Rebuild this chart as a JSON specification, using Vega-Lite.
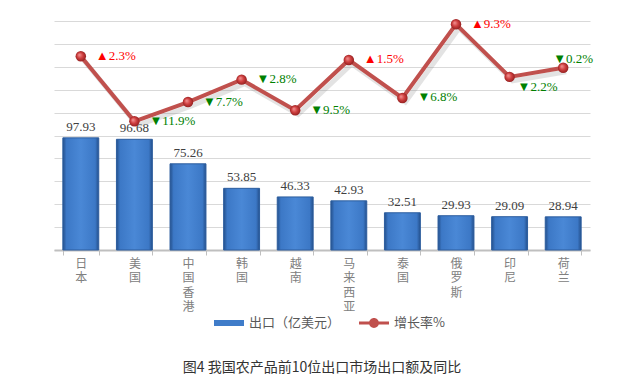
{
  "$schema": "https://vega.github.io/schema/vega-lite/v6.json",
  "width": 536,
  "height": 229,
  "autosize": {"type": "none"},
  "padding": {"left": 54, "top": 21, "right": 40, "bottom": 126},
  "background": "white",
  "config": {"view": {"stroke": null}},
  "title": {
    "text": "图4 我国农产品前10位出口市场出口额及同比",
    "orient": "bottom",
    "anchor": "middle",
    "font": "Noto Sans CJK SC",
    "fontSize": 14,
    "fontWeight": "normal",
    "color": "#333333",
    "offset": 31
  },
  "data": {
    "values": [
      {"c": "日本", "v": 97.93, "g": 2.3},
      {"c": "美国", "v": 96.68, "g": -11.9},
      {"c": "中国香港", "v": 75.26, "g": -7.7},
      {"c": "韩国", "v": 53.85, "g": -2.8},
      {"c": "越南", "v": 46.33, "g": -9.5},
      {"c": "马来西亚", "v": 42.93, "g": 1.5},
      {"c": "泰国", "v": 32.51, "g": -6.8},
      {"c": "俄罗斯", "v": 29.93, "g": 9.3},
      {"c": "印尼", "v": 29.09, "g": -2.2},
      {"c": "荷兰", "v": 28.94, "g": -0.2}
    ]
  },
  "encoding": {
    "x": {
      "field": "c",
      "type": "nominal",
      "sort": null,
      "scale": {"paddingInner": 0.33, "paddingOuter": 0.165},
      "axis": {
        "title": null,
        "labelAngle": 0,
        "labelExpr": "split(datum.label, '')",
        "labelBaseline": "top",
        "labelLineHeight": 14.5,
        "labelFont": "Noto Sans CJK SC",
        "labelFontSize": 12,
        "labelColor": "#808080",
        "labelPadding": 3,
        "domainColor": "#bfbfbf",
        "domainWidth": 2,
        "tickColor": "#bfbfbf",
        "tickSize": 5,
        "tickBand": "extent"
      }
    }
  },
  "layer": [
    {
      "encoding": {
        "y": {
          "field": "v",
          "type": "quantitative",
          "scale": {"domain": [0, 200], "nice": false, "zero": true},
          "axis": {
            "values": [0, 20, 40, 60, 80, 100, 120, 140, 160, 180, 200],
            "grid": true,
            "gridColor": "#d9d9d9",
            "labels": false,
            "ticks": false,
            "domain": false,
            "title": null
          }
        }
      },
      "layer": [
        {
          "mark": {
            "type": "bar",
            "strokeWidth": 1,
            "stroke": "#2c5d9e",
            "fill": {
              "gradient": "linear",
              "x1": 0, "y1": 0, "x2": 1, "y2": 0,
              "stops": [
                {"offset": 0, "color": "#24508c"},
                {"offset": 0.1, "color": "#3c78c6"},
                {"offset": 0.5, "color": "#4a88d6"},
                {"offset": 0.9, "color": "#3c78c6"},
                {"offset": 1, "color": "#24508c"}
              ]
            }
          }
        },
        {
          "mark": {
            "type": "text",
            "baseline": "bottom",
            "dy": -4,
            "font": "Liberation Serif",
            "fontSize": 13,
            "color": "#404040"
          },
          "encoding": {"text": {"field": "v", "type": "quantitative", "format": ".2f"}}
        }
      ]
    },
    {
      "transform": [
        {"calculate": "(datum.g >= 0 ? '▲' : '▼') + format(abs(datum.g), '.1f') + '%'", "as": "lab"}
      ],
      "encoding": {
        "y": {
          "field": "g",
          "type": "quantitative",
          "scale": {"domain": [-40, 10], "nice": false, "zero": false},
          "axis": null
        }
      },
      "layer": [
        {
          "mark": {"type": "line", "color": "#7f7f7f", "opacity": 0.22, "strokeWidth": 5, "xOffset": 3, "yOffset": 4}
        },
        {
          "mark": {"type": "line", "strokeWidth": 4, "color": "#c0504d"}
        },
        {
          "mark": {
            "type": "point",
            "filled": true,
            "size": 110,
            "opacity": 1,
            "strokeWidth": 0,
            "fill": {
              "gradient": "radial",
              "x1": 0.35, "y1": 0.35, "r1": 0,
              "x2": 0.5, "y2": 0.5, "r2": 0.55,
              "stops": [
                {"offset": 0, "color": "#f59a9a"},
                {"offset": 0.5, "color": "#d04040"},
                {"offset": 1, "color": "#8c1c1c"}
              ]
            }
          }
        },
        {
          "transform": [{"filter": "datum.c !== '印尼' && datum.c !== '荷兰'"}],
          "mark": {"type": "text", "align": "left", "baseline": "middle", "dx": 15, "dy": -0.5, "font": "Liberation Serif", "fontSize": 13},
          "encoding": {
            "text": {"field": "lab"},
            "color": {"condition": {"test": "datum.g >= 0", "value": "#ff0000"}, "value": "#008000"}
          }
        },
        {
          "transform": [{"filter": "datum.c === '印尼'"}],
          "mark": {"type": "text", "align": "left", "baseline": "middle", "dx": 8, "dy": 10, "font": "Liberation Serif", "fontSize": 13},
          "encoding": {
            "text": {"field": "lab"},
            "color": {"condition": {"test": "datum.g >= 0", "value": "#ff0000"}, "value": "#008000"}
          }
        },
        {
          "transform": [{"filter": "datum.c === '荷兰'"}],
          "mark": {"type": "text", "align": "left", "baseline": "middle", "dx": -10, "dy": -9, "font": "Liberation Serif", "fontSize": 13},
          "encoding": {
            "text": {"field": "lab"},
            "color": {"condition": {"test": "datum.g >= 0", "value": "#ff0000"}, "value": "#008000"}
          }
        }
      ]
    },
    {
      "transform": [
        {"fold": ["v", "g"], "as": ["k", "val"]},
        {"calculate": "datum.k === 'v' ? '出口（亿美元）' : '增长率%'", "as": "s"}
      ],
      "mark": {"type": "point", "filled": true, "size": 0, "strokeWidth": 0, "opacity": 1},
      "encoding": {
        "shape": {
          "field": "s",
          "type": "nominal",
          "scale": {
            "domain": ["出口（亿美元）", "增长率%"],
            "range": [
              "M-1,-0.2H1V0.2H-1Z",
              "M-1,-0.1H1V0.1H-1Z M-0.33,0 A0.33,0.33 0 1,1 0.33,0 A0.33,0.33 0 1,1 -0.33,0 Z"
            ]
          },
          "legend": {
            "orient": "none",
            "legendX": 160,
            "legendY": 287,
            "direction": "horizontal",
            "title": null,
            "symbolSize": 900,
            "symbolStrokeWidth": 0,
            "symbolOpacity": 1,
            "labelFont": "Noto Sans CJK SC",
            "labelFontSize": 13,
            "labelColor": "#595959",
            "labelOffset": 5,
            "columnPadding": 18
          }
        },
        "fill": {
          "field": "s",
          "type": "nominal",
          "scale": {"domain": ["出口（亿美元）", "增长率%"], "range": ["#3f7cc9", "#c0504d"]},
          "legend": {
            "orient": "none",
            "legendX": 160,
            "legendY": 287,
            "direction": "horizontal",
            "title": null,
            "symbolSize": 900,
            "symbolStrokeWidth": 0,
            "symbolOpacity": 1,
            "labelFont": "Noto Sans CJK SC",
            "labelFontSize": 13,
            "labelColor": "#595959",
            "labelOffset": 5,
            "columnPadding": 18
          }
        }
      }
    }
  ],
  "resolve": {"scale": {"y": "independent"}}
}
